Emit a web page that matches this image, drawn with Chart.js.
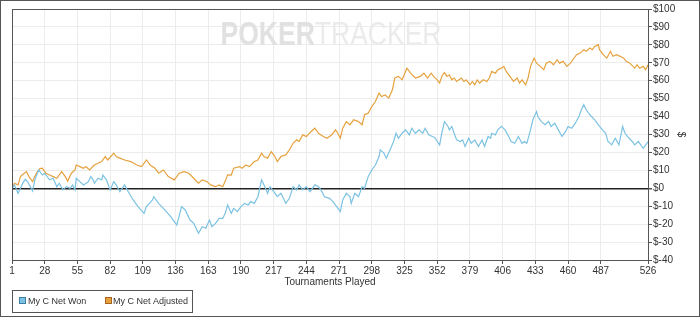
<!DOCTYPE html>
<html>
<head>
<meta charset="utf-8">
<script src="https://cdn.jsdelivr.net/npm/chart.js@4"></script>
<style>
  html, body { margin: 0; padding: 0; background: #fff; }
  canvas { display: block; }
</style>
</head>
<body>
<canvas id="chart" width="700" height="317"></canvas>
<script>
// Tick labels on the x axis (tournament numbers)
const tournamentTicks = [1, 28, 55, 82, 109, 136, 163, 190, 217, 244, 271, 298, 325, 352, 379, 406, 433, 460, 487, 526];

// My C Net Won
const wonGames = [1, 3, 6, 8, 10, 12, 14, 16, 18, 20, 23, 26, 28, 32, 35, 38, 40, 43, 46, 49, 51, 53, 54, 57, 60, 64, 66, 68, 69, 72, 75, 76, 79, 82, 85, 87, 90, 94, 97,
    101, 105, 110, 112, 117, 118, 122, 126, 132, 137, 141, 144, 148, 151, 155, 158, 161, 164, 166, 169, 172, 175, 177, 179, 182, 184, 187, 190, 193, 196, 198,
    201, 204, 207, 209, 212, 214, 216, 220, 223, 227, 230, 233, 236, 238, 241, 244, 247, 251, 254, 256, 259, 263, 266, 269, 272, 274, 277, 280, 281, 284, 287, 290, 292, 295, 298,
    301, 304, 305, 308, 310, 313, 316, 318, 320, 323, 326, 329, 331, 334, 337, 340, 342, 345, 348, 350, 352, 354, 356, 358, 361, 362, 364, 366, 368, 371, 373, 375, 378, 380, 383, 386, 389, 391, 394, 396, 397, 400,
    402, 405, 408, 411, 413, 416, 419, 422, 424, 426, 429, 431, 434, 435, 438, 441, 444, 446, 449, 452, 455, 458, 460, 463, 466, 469, 471, 473, 475, 478, 482, 486, 491, 493, 496, 499,
    502, 504, 505, 507, 509, 513, 515, 518, 522, 525, 526];
const wonValues = [0, 1.9, -2.8, 0, 3, 5, 3.5, 1, -1.5, 5, 10.2, 7.4, 8.4, 4.7, 5.6, 0.9, 2.8, -0.9, 0.9, 0, 1.9, -0.9, 5.6, 3.7, 1.9, 3.7, 6.5, 4.7, 2.8, 5.6, 4.7, 7.4, 4.7, -0.9, 3.7, 1.9, -1.9, 1.9, -1.9,
    -6.5, -10.2, -14, -10.2, -6.5, -4.7, -8.4, -11.2, -15.8, -20.5, -10.2, -12.1, -17.7, -19.6, -25.1, -21.4, -22.3, -17.7, -21.4, -19.6, -16.8, -16.8, -14, -9.3, -14, -11.2, -13, -10.2, -8.4, -9.3, -7.4,
    -8.4, -4.7, 4.7, 1.9, -2.8, 0.9, -0.9, -4.7, -2.8, -8.4, -5.6, 0.9, -0.9, 1.9, -0.9, 0.9, -1.9, 1.9, 0.9, -0.9, -4.7, -5.6, -7.4, -10.2, -13, -6.5, -2.8, -4.7, -8.4, -2.8, -4.7, 0.9, 0, 6.5, 10.2,
    13, 17.7, 21.4, 19.6, 16.8, 21.4, 26.1, 30.7, 27.9, 30.7, 32.6, 29.8, 33.5, 30.7, 32.6, 30.7, 33.5, 29.8, 28.9, 28.4, 26.1, 24.2, 31.5, 37.2, 34.5, 32.6, 34.5, 30.7, 27, 26.1, 27, 23.3, 27.9, 25.1, 27, 23.3, 27, 23.3, 28.9, 27.9, 30.7, 29.8,
    32.6, 34.5, 32.6, 28.9, 26.1, 25.1, 28.9, 25.1, 26.1, 25.1, 32.6, 38.2, 42.8, 40, 37.2, 35.4, 37.2, 34.5, 36.3, 32.6, 28.9, 31.7, 34.5, 33.5, 36.3, 40, 43.8, 46.6, 43.8, 41, 38.2, 34.5, 30.7, 26.1, 24.2, 27.9,
    24.2, 30.7, 34.5, 30.7, 28.9, 26.1, 24.2, 26.1, 22.3, 25.1, 26];

// My C Net Adjusted
const adjGames = [1, 3, 6, 8, 11, 13, 15, 18, 21, 24, 26, 29, 32, 35, 38, 42, 45, 47, 50, 53, 54, 57, 60, 62, 65, 69, 72, 75, 78, 80, 85, 87, 90, 94, 99,
    104, 108, 112, 115, 119, 122, 126, 130, 135, 139, 143, 147, 151, 155, 158, 162, 165, 169, 172, 175, 177, 179, 182, 184, 189, 191, 194, 197,
    201, 204, 207, 209, 212, 215, 218, 220, 223, 227, 230, 233, 236, 238, 241, 244, 248, 251, 254, 258, 261, 265, 268, 270, 272, 274, 277, 280, 283, 287, 290, 292, 295, 298,
    301, 304, 306, 309, 312, 315, 317, 320, 323, 327, 330, 334, 338, 341, 344, 347, 349, 352, 354, 356, 358, 360, 362, 364, 366, 368, 370, 372, 374, 376, 379, 381, 383, 385, 387, 390, 393, 395, 397, 400,
    402, 405, 407, 409, 412, 415, 418, 420, 422, 425, 427, 429, 432, 434, 437, 440, 442, 445, 448, 451, 453, 456, 459, 462, 464, 467, 470, 473, 475, 478, 480, 482, 485, 486, 489, 492, 495, 497, 500,
    503, 506, 508, 511, 515, 517, 519, 522, 524, 526];
const adjValues = [0, 2.8, 1.9, 6.5, 8.4, 9.3, 6.5, 3.7, 8.4, 11, 11.2, 8.4, 7.4, 6.5, 5.6, 9.3, 6.5, 4, 8.4, 10.2, 13, 12.1, 11.2, 12.1, 10.2, 13, 14, 14.9, 17.7, 15.8, 19.6, 17.7, 16.8, 15.8, 14.9,
    13, 12.1, 15.8, 13, 11.2, 8.4, 10.2, 6.5, 4.7, 8.4, 9.3, 8.4, 5.6, 2.8, 4.7, 3.7, 1.9, 0.9, 1.9, 0.9, 4, 7.5, 7.4, 11.2, 12.1, 11.2, 13, 12.1,
    14.9, 15.8, 19.6, 17.7, 16.8, 20.5, 17.7, 14.9, 17.7, 18.6, 21.4, 25.1, 27, 26.1, 29.8, 28.9, 31.7, 33.5, 30.7, 28.9, 27.9, 29.8, 32.6, 30.7, 27.9, 33.5, 37.2, 35.4, 38.2, 37.2, 35.4, 41, 41.9, 45.6,
    48.4, 53.1, 51.2, 52.1, 50.3, 54.9, 61.5, 62.4, 60.5, 67, 64.2, 61.5, 62.4, 64.2, 61.5, 64.2, 62.4, 60.5, 58.7, 62.8, 64.5, 62.4, 63.3, 60.5, 61.5, 59.6, 60.5, 61.5, 59.6, 60.5, 57.7, 59.6, 57.7, 60.5, 58.7, 60.5, 59.6, 61.5, 65.2, 64.2,
    66.1, 67, 68, 65.2, 62.4, 59.6, 61.5, 58.7, 60.5, 57.7, 61.5, 68, 72.6, 69.8, 68, 66.1, 69.8, 70.8, 68.9, 71.7, 69.8, 70.8, 68, 69.8, 71.7, 74.5, 75.4, 77.3, 76.4, 78.2, 77.3, 79.1, 80.1, 77.3, 74.5, 72.6, 76.4, 73.6, 74.5,
    73.6, 72.6, 70.8, 69.8, 67, 68.9, 67, 68, 66.1, 68.9];

const seriesNames = ['My C Net Won', 'My C Net Adjusted'];
const seriesColors = ['#7cc2e2', '#e6a23e'];
const seriesEdges = ['#3c7fa6', '#a8641a'];

const FONT = '"Liberation Sans", Arial, sans-serif';
const AXIS = '#555';

Chart.defaults.font.family = FONT;
Chart.defaults.font.size = 10;
Chart.defaults.color = '#333';

// Watermark, plot border, outer frame and boxed legend
const decorations = {
    id: 'decorations',
    beforeDatasetsDraw(chart) {
        const c = chart.ctx;
        c.save();
        c.translate(331, 36);
        c.scale(0.78, 1);
        c.textBaseline = 'middle';
        c.font = 'bold 34px ' + FONT;
        const w1 = c.measureText('POKER').width;
        c.font = '34px ' + FONT;
        const w2 = c.measureText('TRACKER').width;
        let x = -(w1 + w2) / 2;
        c.textAlign = 'left';
        c.font = 'bold 34px ' + FONT;
        c.fillStyle = '#e1e1e1';
        c.fillText('POKER', x, 0);
        c.font = '34px ' + FONT;
        c.fillStyle = '#ebebeb';
        c.fillText('TRACKER', x + w1, 0);
        c.restore();
    },
    afterDraw(chart) {
        const c = chart.ctx;
        const a = chart.chartArea;
        c.save();
        c.strokeStyle = AXIS;
        c.lineWidth = 1;
        c.strokeRect(Math.round(a.left) + 0.5, Math.round(a.top) + 0.5,
            Math.round(a.right - a.left), Math.round(a.bottom - a.top));
        c.strokeRect(0.5, 0.5, chart.width - 1, chart.height - 1);

        // legend box
        c.fillStyle = '#fff';
        c.fillRect(12.5, 290.5, 180, 22);
        c.strokeRect(12.5, 290.5, 180, 22);
        const items = [[19.5, 28], [105.5, 113]];
        c.font = '9px ' + FONT;
        c.textBaseline = 'middle';
        c.textAlign = 'left';
        items.forEach((it, i) => {
            c.fillStyle = seriesColors[i];
            c.fillRect(it[0], 297.5, 6, 6);
            c.strokeStyle = seriesEdges[i];
            c.strokeRect(it[0], 297.5, 6, 6);
            c.fillStyle = '#333';
            c.fillText(seriesNames[i], it[1], 301.5);
        });
        c.restore();
    }
};

function toPoints(games, values) {
    return games.map((g, i) => ({ x: g, y: values[i] }));
}

new Chart(document.getElementById('chart'), {
    type: 'line',
    data: {
        datasets: [
            {
                label: seriesNames[0],
                data: toPoints(wonGames, wonValues),
                borderColor: seriesColors[0],
                borderWidth: 1.2,
                pointRadius: 0,
                tension: 0
            },
            {
                label: seriesNames[1],
                data: toPoints(adjGames, adjValues),
                borderColor: seriesColors[1],
                borderWidth: 1.2,
                pointRadius: 0,
                tension: 0
            }
        ]
    },
    options: {
        responsive: false,
        animation: false,
        events: [],
        layout: { padding: { left: 12, top: 9, right: 0, bottom: 0 } },
        plugins: {
            legend: { display: false },
            tooltip: { enabled: false }
        },
        scales: {
            x: {
                type: 'linear',
                min: 1,
                max: 526,
                afterBuildTicks: scale => {
                    scale.ticks = tournamentTicks.map(v => ({ value: v }));
                },
                afterFit: scale => { scale.height = 57; },
                grid: { color: '#ececec', tickColor: AXIS, tickLength: 4 },
                border: { color: AXIS },
                ticks: { autoSkip: false, maxRotation: 0, padding: 1, color: '#333' },
                title: {
                    display: true,
                    text: 'Tournaments Played',
                    color: '#333',
                    padding: { top: 0, bottom: 29 }
                }
            },
            y: {
                position: 'right',
                min: -40,
                max: 100,
                afterFit: scale => { scale.width = 52; },
                grid: {
                    color: ctx => ctx.tick && ctx.tick.value === 0 ? '#222' : '#ececec',
                    lineWidth: ctx => ctx.tick && ctx.tick.value === 0 ? 1.5 : 1,
                    tickColor: AXIS,
                    tickLength: 4
                },
                border: { color: AXIS },
                ticks: {
                    stepSize: 10,
                    padding: 1,
                    color: '#333',
                    callback: v => '$' + v
                },
                title: {
                    display: true,
                    text: '$',
                    color: '#333',
                    padding: { top: 13, bottom: 0 }
                }
            }
        }
    },
    plugins: [decorations]
});
</script>
</body>
</html>
